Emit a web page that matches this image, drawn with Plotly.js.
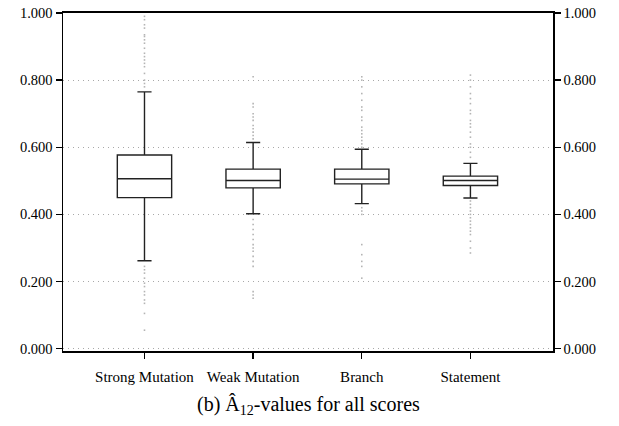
<!DOCTYPE html>
<html>
<head>
<meta charset="utf-8">
<script src="https://cdn.plot.ly/plotly-3.0.1.min.js"></script>
<style>html,body{margin:0;padding:0;background:#fff;}#chart{width:619px;height:426px;}</style>
</head>
<body>
<div id="chart"></div>
<script>
const categories = ["Strong Mutation", "Weak Mutation", "Branch", "Statement"];
const q1Values = [0.450, 0.479, 0.491, 0.486];
const medianValues = [0.506, 0.501, 0.505, 0.501];
const q3Values = [0.577, 0.535, 0.535, 0.514];
const lowerWhiskers = [0.262, 0.402, 0.432, 0.449];
const upperWhiskers = [0.765, 0.614, 0.594, 0.552];

const outliersStrongMutation = [0.99, 0.98, 0.965, 0.955, 0.935, 0.93, 0.92, 0.91, 0.895, 0.88, 0.87, 0.86, 0.85, 0.84, 0.82, 0.80, 0.79, 0.78,
  0.245, 0.235, 0.225, 0.21, 0.195, 0.185, 0.17, 0.16, 0.145, 0.135, 0.105, 0.055];
const outliersWeakMutation = [0.81, 0.73, 0.72, 0.70, 0.69, 0.68, 0.665, 0.655, 0.645, 0.635, 0.625,
  0.385, 0.37, 0.355, 0.34, 0.325, 0.31, 0.30, 0.29, 0.275, 0.26, 0.245, 0.17, 0.16, 0.15];
const outliersBranch = [0.81, 0.80, 0.78, 0.76, 0.74, 0.72, 0.71, 0.69, 0.68, 0.66, 0.65, 0.64, 0.63, 0.62, 0.61, 0.60,
  0.42, 0.41, 0.40, 0.31, 0.28, 0.26, 0.245, 0.21];
const outliersStatement = [0.815, 0.80, 0.78, 0.76, 0.745, 0.73, 0.71, 0.70, 0.68, 0.67, 0.66, 0.645, 0.63, 0.61, 0.60, 0.585, 0.57,
  0.44, 0.43, 0.42, 0.41, 0.40, 0.39, 0.38, 0.37, 0.36, 0.35, 0.34, 0.32, 0.30, 0.285];

const yTickValues = [0, 0.2, 0.4, 0.6, 0.8, 1.0];

const outlierGroups = [outliersStrongMutation, outliersWeakMutation, outliersBranch, outliersStatement];
const outX = [], outY = [];
outlierGroups.forEach((g, i) => g.forEach(v => { outX.push(categories[i]); outY.push(v); }));

const serif = "'Liberation Serif', 'Times New Roman', Times, serif";

const traces = [
  {
    type: "box",
    x: categories,
    q1: q1Values,
    median: medianValues,
    q3: q3Values,
    lowerfence: lowerWhiskers,
    upperfence: upperWhiskers,
    boxpoints: false,
    width: 0.5,
    whiskerwidth: 0.26,
    fillcolor: "#ffffff",
    line: { color: "#222222", width: 1.4 },
    showlegend: false,
    hoverinfo: "skip"
  },
  {
    type: "scatter",
    mode: "markers",
    x: outX,
    y: outY,
    yaxis: "y2",
    marker: { color: "#b4b4b4", size: 1.6, symbol: "square" },
    showlegend: false,
    hoverinfo: "skip"
  }
];

const commonY = {
  range: [-0.007, 1.0],
  tickvals: yTickValues,
  tickformat: ".3f",
  ticks: "outside",
  ticklen: 6,
  tickwidth: 1.3,
  tickcolor: "#000",
  showline: true,
  linecolor: "#000",
  linewidth: 1.5,
  zeroline: false,
  tickfont: { family: serif, size: 14.5, color: "#000" },
  fixedrange: true
};

const layout = {
  width: 619,
  height: 426,
  margin: { l: 63, r: 66, t: 13, b: 75 },
  paper_bgcolor: "#fff",
  plot_bgcolor: "#fff",
  showlegend: false,
  xaxis: {
    type: "category",
    categoryarray: categories,
    range: [-0.75, 3.76],
    showline: true,
    mirror: true,
    linecolor: "#000",
    linewidth: 2,
    ticks: "outside",
    ticklen: 6,
    tickwidth: 1.3,
    tickcolor: "#000",
    showgrid: false,
    zeroline: false,
    ticklabelstandoff: 5,
    tickfont: { family: serif, size: 15, color: "#000" }
  },
  yaxis: Object.assign({}, commonY, {
    side: "left",
    showgrid: true,
    gridcolor: "#a8a8a8",
    gridwidth: 1,
    griddash: "1px,4px"
  }),
  yaxis2: Object.assign({}, commonY, {
    side: "right",
    overlaying: "y",
    matches: "y",
    showgrid: false
  }),
  annotations: [
    {
      text: "(b) Â<sub>12</sub>-values for all scores",
      xref: "paper", yref: "paper",
      x: 0.5, y: -0.16,
      xanchor: "center", yanchor: "middle",
      showarrow: false,
      font: { family: serif, size: 20, color: "#000" }
    }
  ]
};

Plotly.newPlot("chart", traces, layout, { displayModeBar: false, staticPlot: true });
</script>
</body>
</html>
